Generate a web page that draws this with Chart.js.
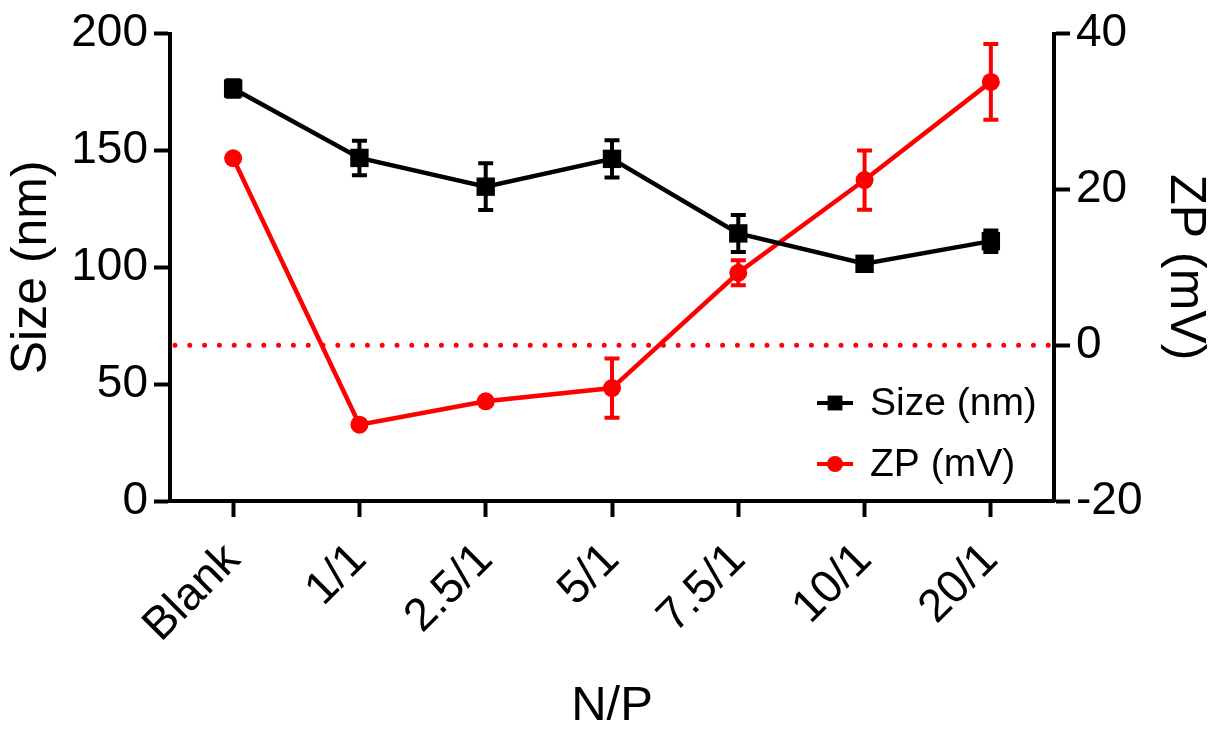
<!DOCTYPE html>
<html>
<head>
<meta charset="utf-8">
<script src="https://cdn.jsdelivr.net/npm/chart.js@4/dist/chart.umd.min.js"></script>
<style>
  html, body { margin: 0; padding: 0; background: #fff; }
  #wrap { width: 1229px; height: 736px; }
</style>
</head>
<body>
<div id="wrap"><canvas id="chart" width="1229" height="736"></canvas></div>
<script>
// N/P ratios on the x axis
const categories = ['Blank', '1/1', '2.5/1', '5/1', '7.5/1', '10/1', '20/1'];

// Particle size (nm), left axis
const sizeValues = [176.5, 146.8, 134.5, 146.4, 114.5, 101.5, 111.2];
const sizeErrors = [3.5, 7.4, 10, 8, 7.9, 2, 4.6];

// Zeta potential (mV), right axis
const zpValues = [24.0, -10.2, -7.2, -5.5, 9.3, 21.2, 33.8];
const zpErrors = [0, 0, 0, 3.8, 1.6, 3.8, 4.85];

const zpReference = 0; // dotted line
const FONT = 'Arial, "Liberation Sans", Helvetica, sans-serif';
const RED = '#ff0000';

/**
 * Vertical error bars with caps, drawn from the dataset's errors array
 */
const errorBarPlugin = {
    id: 'errorBars',
    beforeDatasetsDraw(chart) {
        const ctx = chart.ctx;
        chart.data.datasets.forEach((ds, i) => {
            const meta = chart.getDatasetMeta(i);
            const yScale = chart.scales[ds.yAxisID];
            ctx.save();
            ctx.strokeStyle = ds.borderColor;
            ctx.lineWidth = 4;
            ds.errors.forEach((err, j) => {
                if (!err) return;
                const x = meta.data[j].x;
                const yTop = yScale.getPixelForValue(ds.data[j] + err);
                const yBot = yScale.getPixelForValue(ds.data[j] - err);
                ctx.beginPath();
                ctx.moveTo(x, yTop);
                ctx.lineTo(x, yBot);
                ctx.moveTo(x - 7.5, yTop);
                ctx.lineTo(x + 7.5, yTop);
                ctx.moveTo(x - 7.5, yBot);
                ctx.lineTo(x + 7.5, yBot);
                ctx.stroke();
            });
            ctx.restore();
        });
    }
};

/**
 * Dotted zero line across the plot on the right axis
 */
const zeroLinePlugin = {
    id: 'zeroLine',
    beforeDatasetsDraw(chart) {
        const { ctx, chartArea } = chart;
        const y = chart.scales.y1.getPixelForValue(zpReference);
        ctx.save();
        ctx.strokeStyle = RED;
        ctx.lineWidth = 5;
        ctx.lineCap = 'round';
        ctx.setLineDash([0, 14.8]);
        ctx.beginPath();
        ctx.moveTo(chartArea.left + 5, y);
        ctx.lineTo(chartArea.right, y);
        ctx.stroke();
        ctx.restore();
    }
};

/**
 * Legend inside the plot, bottom right
 */
const insideLegendPlugin = {
    id: 'insideLegend',
    afterDatasetsDraw(chart) {
        const ctx = chart.ctx;
        const rows = [403, 464];
        chart.data.datasets.forEach((ds, i) => {
            const y = rows[i];
            ctx.save();
            ctx.strokeStyle = ds.borderColor;
            ctx.fillStyle = ds.borderColor;
            ctx.lineWidth = 4;
            ctx.beginPath();
            ctx.moveTo(817, y);
            ctx.lineTo(853, y);
            ctx.stroke();
            Chart.helpers.drawPoint(ctx, {
                pointStyle: ds.pointStyle,
                radius: ds.pointStyle === 'rect' ? 10.5 : 8,
                borderWidth: 0
            }, 835, y);
            ctx.fillStyle = '#000';
            ctx.font = '39px ' + FONT;
            ctx.textBaseline = 'middle';
            ctx.fillText(ds.label, 870, y + 1);
            ctx.restore();
        });
    }
};

const axisBase = {
    border: { color: '#000', width: 4 },
    grid: { drawOnChartArea: false, drawTicks: true, tickLength: 16, tickWidth: 4, tickColor: '#000' },
    ticks: { color: '#000', font: { family: FONT, size: 46 }, padding: 6 }
};

new Chart(document.getElementById('chart'), {
    type: 'line',
    data: {
        labels: categories,
        datasets: [
            {
                label: 'Size (nm)',
                data: sizeValues,
                errors: sizeErrors,
                yAxisID: 'y',
                borderColor: '#000',
                backgroundColor: '#000',
                borderWidth: 4.5,
                pointStyle: 'rect',
                pointRadius: 13,
                pointBorderWidth: 0,
                clip: false
            },
            {
                label: 'ZP (mV)',
                data: zpValues,
                errors: zpErrors,
                yAxisID: 'y1',
                borderColor: RED,
                backgroundColor: RED,
                borderWidth: 4.5,
                pointStyle: 'circle',
                pointRadius: 9,
                pointBorderWidth: 0,
                clip: false
            }
        ]
    },
    options: {
        responsive: false,
        animation: false,
        layout: { padding: { top: 30, left: 0, right: 0, bottom: 0 } },
        plugins: { legend: { display: false }, tooltip: { enabled: false } },
        scales: {
            x: {
                ...axisBase,
                offset: true,
                ticks: { ...axisBase.ticks, minRotation: 45, maxRotation: 45, padding: 16 },
                title: { display: true, text: 'N/P', color: '#000', font: { family: FONT, size: 49 }, padding: { top: 0, bottom: 0 } },
                afterFit(scale) { scale.height = 235; }
            },
            y: {
                ...axisBase,
                position: 'left',
                min: 0,
                max: 200,
                ticks: { ...axisBase.ticks, stepSize: 50 },
                title: { display: true, text: 'Size (nm)', color: '#000', font: { family: FONT, size: 50 }, padding: { top: 2, bottom: 0 } },
                afterFit(scale) { scale.width = 170; }
            },
            y1: {
                ...axisBase,
                position: 'right',
                min: -20,
                max: 40,
                ticks: { ...axisBase.ticks, stepSize: 20 },
                title: { display: true, text: 'ZP (mV)', color: '#000', font: { family: FONT, size: 50 }, padding: { top: 14, bottom: 0 } },
                afterFit(scale) { scale.width = 175; }
            }
        }
    },
    plugins: [zeroLinePlugin, errorBarPlugin, insideLegendPlugin]
});
</script>
</body>
</html>
